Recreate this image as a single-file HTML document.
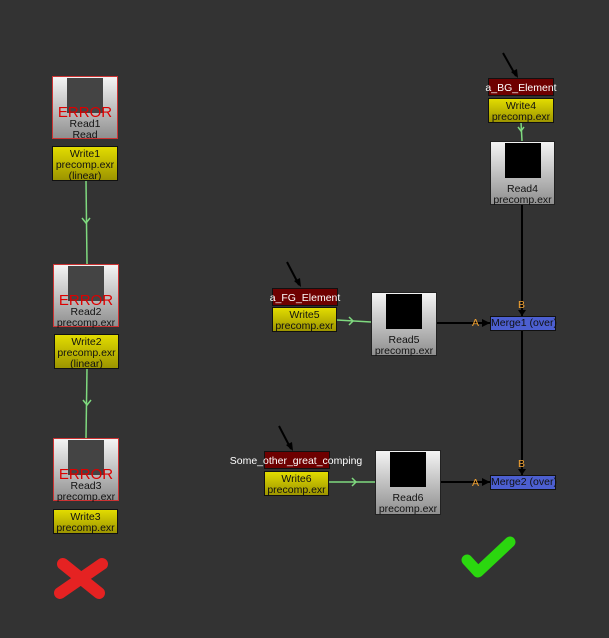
<!DOCTYPE html>
<html><head><meta charset="utf-8"><style>
body{margin:0;width:609px;height:638px;background:#333;overflow:hidden;position:relative;font-family:"Liberation Sans","DejaVu Sans",sans-serif}
.n{position:absolute;box-sizing:border-box}
.rd{background:linear-gradient(#f4f4f4,#8f8f8f);border:1px solid #222;text-align:center;font-size:10.5px;color:#111}
.err{border:1px solid #c33}
.in{position:absolute;left:14px;top:1px;width:36px;height:35px;background:#000}
.err .in{background:#444}
.wr{background:linear-gradient(#e2dc00,#9c9400);border:1px solid #111;text-align:center;font-size:10.5px;line-height:11px;color:#111;padding-top:2px}
.bd{background:#6e0000;border:1px solid #111}
.mg{background:#4c5fd0;border:1px solid #111;font-size:10.5px;color:#111;text-align:center;line-height:13px;white-space:nowrap;overflow:visible}
.lbl{position:absolute;color:#fff;font-size:10.5px;white-space:nowrap;transform:translateX(-50%)}
.e{position:absolute;left:0;right:0;top:27px;color:#d00;font-size:15px}
.t1{position:absolute;left:0;right:0;white-space:nowrap}
.ab{position:absolute;color:#f0a030;font-size:10.5px}
</style></head><body>
<svg width="609" height="638" style="position:absolute;left:0;top:0">
<g stroke="#7fd97f" stroke-width="1.5" fill="none">
<line x1="86" y1="180" x2="87" y2="264"/><line x1="87" y1="368" x2="86" y2="438"/>
<line x1="521" y1="122" x2="522" y2="141"/>
<line x1="337" y1="320" x2="371" y2="322"/><line x1="329" y1="482" x2="375" y2="482"/>
<polyline points="82,218 86,223 90,218"/><polyline points="83,400 87,405 91,400"/>
<polyline points="349,317 353,321 349,325"/><polyline points="352,478 356,482 352,486"/>
<polyline points="518,127 521,131 524,127"/>
</g>
<g stroke="#000" stroke-width="2" fill="none">
<line x1="522" y1="205" x2="522" y2="316"/><line x1="522" y1="330" x2="522" y2="475"/>
<line x1="436" y1="323" x2="490" y2="323"/><line x1="440" y1="482" x2="490" y2="482"/>
<line x1="503" y1="53" x2="516" y2="76"/><line x1="287" y1="262" x2="299" y2="285"/><line x1="279" y1="426" x2="291" y2="449"/>
</g>
<g fill="#000">
<polygon points="511,72 518,78 517,69"/><polygon points="294,281 301,287 300,278"/><polygon points="286,445 293,451 292,442"/>
<polygon points="482,319 490,323 482,327"/><polygon points="482,478 490,482 482,486"/>
<polygon points="518,310 522,316 526,310"/><polygon points="518,469 522,475 526,469"/>
</g>
<g stroke="#e52222" stroke-width="12" stroke-linecap="round"><line x1="63" y1="564" x2="99" y2="593"/><line x1="102" y1="564" x2="60" y2="593"/></g>
<polyline points="467,560 478,572 510,542" stroke="#2bd70f" stroke-width="11" stroke-linecap="round" stroke-linejoin="round" fill="none"/>
</svg>

<div class="n rd err" style="left:52px;top:76px;width:66px;height:63px"><div class="in"></div><div class="e">ERROR</div><div class="t1" style="top:41px">Read1</div><div class="t1" style="top:52px">Read</div></div>
<div class="n wr" style="left:52px;top:146px;width:66px;height:35px">Write1<br>precomp.exr<br>(linear)</div>
<div class="n rd err" style="left:53px;top:264px;width:66px;height:63px"><div class="in"></div><div class="e">ERROR</div><div class="t1" style="top:41px">Read2</div><div class="t1" style="top:52px">precomp.exr</div></div>
<div class="n wr" style="left:54px;top:334px;width:65px;height:35px">Write2<br>precomp.exr<br>(linear)</div>
<div class="n rd err" style="left:53px;top:438px;width:66px;height:63px"><div class="in"></div><div class="e">ERROR</div><div class="t1" style="top:41px">Read3</div><div class="t1" style="top:52px">precomp.exr</div></div>
<div class="n wr" style="left:53px;top:509px;width:65px;height:25px">Write3<br>precomp.exr</div>

<div class="n bd" style="left:488px;top:78px;width:66px;height:18px"></div>
<div class="lbl" style="left:521px;top:82px">a_BG_Element</div>
<div class="n wr" style="left:488px;top:98px;width:66px;height:25px">Write4<br>precomp.exr</div>
<div class="n rd" style="left:490px;top:141px;width:65px;height:64px"><div class="in"></div><div class="t1" style="top:41px">Read4</div><div class="t1" style="top:52px">precomp.exr</div></div>

<div class="n bd" style="left:272px;top:288px;width:66px;height:18px"></div>
<div class="lbl" style="left:305px;top:292px">a_FG_Element</div>
<div class="n wr" style="left:272px;top:307px;width:65px;height:25px">Write5<br>precomp.exr</div>
<div class="n rd" style="left:371px;top:292px;width:66px;height:64px"><div class="in"></div><div class="t1" style="top:41px">Read5</div><div class="t1" style="top:52px">precomp.exr</div></div>
<div class="n mg" style="left:490px;top:316px;width:66px;height:15px">Merge1 (over)</div>
<div class="ab" style="left:518px;top:299px">B</div><div class="ab" style="left:472px;top:317px">A</div>

<div class="n bd" style="left:264px;top:451px;width:66px;height:18px"></div>
<div class="lbl" style="left:296px;top:455px">Some_other_great_comping</div>
<div class="n wr" style="left:264px;top:471px;width:65px;height:25px">Write6<br>precomp.exr</div>
<div class="n rd" style="left:375px;top:450px;width:66px;height:65px"><div class="in"></div><div class="t1" style="top:41px">Read6</div><div class="t1" style="top:52px">precomp.exr</div></div>
<div class="n mg" style="left:490px;top:475px;width:66px;height:15px">Merge2 (over)</div>
<div class="ab" style="left:518px;top:458px">B</div><div class="ab" style="left:472px;top:477px">A</div>
</body></html>
